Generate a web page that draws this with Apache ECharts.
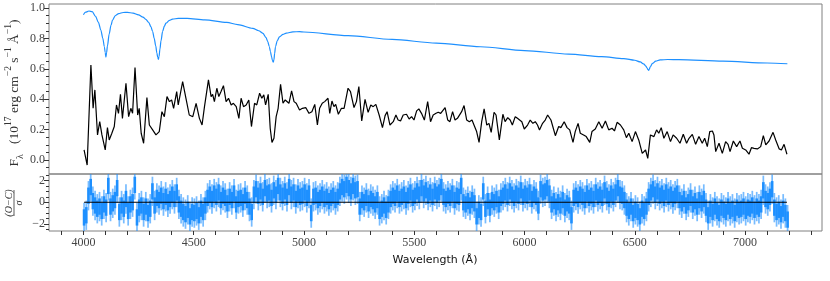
<!DOCTYPE html>
<html><head><meta charset="utf-8">
<script src="https://cdn.jsdelivr.net/npm/echarts@6/dist/echarts.min.js"></script>
<style>html,body{margin:0;padding:0;background:#fff}#c{width:830px;height:281px}</style>
</head><body><div id="c"></div>
<script>
// ---- model spectrum (blue) ----
const modelWave = [4000,4010,4025,4040,4055,4068,4079,4088,4095,4099,4102,4105,4109,4117,4125,4132,4145,4160,4180,4200,4225,4250,4270,4283,4296,4306,4314,4321,4328,4333,4337,4340,4343,4347,4352,4359,4367,4374,4390,4404,4430,4470,4550,4650,4700,4768,4795,4814,4828,4836,4843,4848,4853,4857,4861,4864,4867,4871,4879,4889,4905,4920,4950,4980,5000,5200,5400,5600,5800,6000,6200,6350,6450,6500,6525,6540,6550,6556,6560,6563,6566,6571,6580,6595,6615,6650,6700,6900,7100,7192];
const modelFlux = [0.955,0.972,0.980,0.976,0.945,0.905,0.855,0.800,0.745,0.705,0.676,0.705,0.750,0.830,0.885,0.920,0.950,0.963,0.970,0.971,0.966,0.955,0.940,0.925,0.905,0.877,0.845,0.800,0.750,0.705,0.675,0.662,0.680,0.730,0.785,0.845,0.880,0.900,0.918,0.926,0.932,0.932,0.922,0.905,0.890,0.866,0.850,0.833,0.805,0.778,0.745,0.713,0.680,0.655,0.643,0.660,0.700,0.745,0.785,0.810,0.826,0.834,0.843,0.844,0.842,0.818,0.793,0.769,0.745,0.720,0.697,0.680,0.667,0.656,0.645,0.632,0.618,0.605,0.594,0.590,0.598,0.615,0.635,0.650,0.658,0.661,0.660,0.650,0.638,0.633];

// ---- observed spectrum (black) ----
const obsWave = [4003,4017,4034,4044,4052,4064,4074,4084,4090,4099,4109,4117,4129,4140,4150,4159,4168,4177,4193,4205,4215,4223,4234,4246,4253,4262,4273,4288,4299,4314,4329,4344,4356,4367,4379,4390,4400,4409,4423,4430,4450,4465,4480,4496,4511,4526,4538,4549,4556,4567,4579,4586,4594,4605,4614,4624,4635,4647,4658,4670,4680,4693,4705,4715,4726,4738,4750,4762,4776,4786,4799,4809,4818,4826,4838,4847,4855,4864,4874,4883,4894,4905,4915,4923,4932,4944,4955,4965,4980,4993,5008,5023,5036,5049,5061,5071,5083,5094,5109,5117,5127,5136,5144,5156,5170,5182,5200,5211,5227,5238,5249,5262,5277,5291,5303,5314,5326,5341,5356,5368,5377,5390,5405,5417,5427,5438,5450,5465,5477,5488,5499,5511,5521,5533,5546,5561,5574,5586,5599,5609,5620,5629,5640,5652,5662,5674,5685,5696,5705,5715,5726,5738,5750,5762,5771,5783,5794,5806,5817,5829,5839,5849,5862,5871,5886,5902,5912,5924,5935,5945,5958,5968,5977,5988,5999,6014,6026,6038,6049,6059,6068,6082,6094,6105,6120,6140,6155,6165,6180,6193,6205,6220,6230,6243,6253,6268,6280,6296,6306,6321,6337,6352,6367,6382,6397,6408,6420,6435,6450,6462,6473,6488,6503,6518,6534,6549,6559,6571,6587,6599,6609,6620,6632,6647,6662,6674,6690,6705,6720,6735,6746,6761,6776,6791,6806,6817,6829,6840,6852,6859,6867,6882,6897,6912,6923,6932,6947,6962,6977,6988,7003,7018,7029,7041,7056,7071,7083,7094,7109,7127,7139,7155,7165,7177,7190];
const obsFlux = [0.066,-0.033,0.625,0.340,0.461,0.165,0.252,0.165,0.154,0.066,0.213,0.132,0.176,0.220,0.362,0.307,0.432,0.274,0.505,0.285,0.340,0.307,0.608,0.296,0.340,0.176,0.110,0.410,0.230,0.198,0.165,0.187,0.318,0.285,0.417,0.384,0.395,0.340,0.450,0.362,0.516,0.406,0.296,0.285,0.373,0.274,0.230,0.351,0.351,0.527,0.417,0.432,0.384,0.472,0.417,0.450,0.489,0.384,0.406,0.362,0.373,0.351,0.274,0.406,0.351,0.362,0.395,0.220,0.373,0.362,0.439,0.406,0.428,0.362,0.432,0.209,0.116,0.143,0.285,0.340,0.498,0.373,0.395,0.406,0.373,0.454,0.384,0.373,0.329,0.340,0.345,0.307,0.318,0.366,0.230,0.340,0.373,0.384,0.406,0.307,0.388,0.351,0.366,0.301,0.340,0.340,0.472,0.450,0.345,0.384,0.483,0.257,0.399,0.314,0.362,0.351,0.366,0.296,0.213,0.292,0.318,0.230,0.252,0.296,0.263,0.257,0.296,0.301,0.270,0.285,0.263,0.323,0.336,0.307,0.263,0.384,0.252,0.296,0.307,0.314,0.307,0.296,0.345,0.263,0.252,0.318,0.263,0.274,0.263,0.318,0.358,0.263,0.252,0.263,0.230,0.187,0.116,0.252,0.336,0.230,0.241,0.182,0.314,0.296,0.132,0.301,0.252,0.279,0.263,0.230,0.285,0.274,0.285,0.252,0.204,0.230,0.263,0.241,0.252,0.230,0.198,0.241,0.263,0.296,0.263,0.160,0.220,0.213,0.252,0.213,0.198,0.116,0.187,0.241,0.176,0.165,0.154,0.116,0.187,0.204,0.252,0.209,0.257,0.198,0.209,0.191,0.248,0.230,0.198,0.147,0.176,0.121,0.187,0.132,0.044,0.066,0.011,0.165,0.154,0.198,0.176,0.213,0.143,0.187,0.121,0.165,0.143,0.110,0.169,0.110,0.143,0.169,0.103,0.154,0.110,0.143,0.088,0.187,0.191,0.165,0.055,0.110,0.044,0.121,0.103,0.055,0.125,0.088,0.125,0.077,0.066,0.038,0.081,0.077,0.073,0.088,0.160,0.099,0.125,0.182,0.132,0.073,0.066,0.103,0.038];

// ---- residuals (O-C)/sigma, one value per 10 A bin ----
const residStart = 4003, residStep = 10;
const residVals = [
-1.4,-1.2,0.6,1.4,0.1,-0.3,-0.6,-0.4,-0.8,-0.2,
-0.5,1.5,-0.4,-0.1,0.2,1.3,-0.9,-0.3,-0.6,0.3,
-0.8,-0.2,0.0,1.6,-1.4,-0.5,-0.3,-0.9,-0.4,-1.0,
-0.6,1.0,-0.3,0.4,0.2,0.6,0.1,0.5,0.0,0.3,
0.7,0.3,0.9,-0.2,-0.6,-0.9,-1.1,-0.7,-1.3,-0.9,
-1.0,-0.8,-1.2,-0.6,-0.9,-0.3,0.4,0.7,0.3,0.8,
0.5,0.9,0.2,0.6,0.4,-0.1,0.5,0.2,0.8,-0.2,
0.3,0.4,0.0,0.6,0.2,-0.4,-0.9,0.7,1.2,0.6,
1.0,0.5,1.3,0.8,0.9,0.4,1.1,0.7,1.5,0.9,
0.6,1.0,0.5,1.4,0.7,0.9,0.3,0.8,0.5,0.6,
0.9,0.4,0.8,-1.0,0.5,0.6,0.2,0.4,0.7,0.3,
0.5,0.1,0.4,0.6,0.2,0.5,1.0,1.4,1.2,1.6,
1.3,1.0,1.5,1.1,1.2,-0.4,0.2,0.0,0.4,-0.1,
0.3,0.1,-0.2,0.2,-0.8,-0.6,-0.3,-0.7,-0.2,0.3,
0.6,0.4,0.8,0.3,0.5,0.7,0.2,0.6,0.9,0.4,
0.6,1.0,0.7,1.3,0.8,1.1,0.6,0.9,0.5,1.0,
0.7,0.9,1.4,0.5,0.3,0.6,0.4,0.8,0.2,0.6,
0.5,1.5,0.0,-0.2,0.1,-0.3,0.2,-0.1,-1.3,-0.7,
-0.9,1.0,-0.6,0.1,-0.5,0.2,0.0,0.3,-0.2,0.4,
0.6,0.9,0.5,1.0,0.7,0.4,0.8,0.6,1.1,0.5,
0.8,0.6,0.9,0.3,0.7,0.5,-0.3,1.2,0.9,1.0,
1.3,0.8,-0.2,0.1,-0.4,0.0,-0.3,0.2,-0.5,-0.1,
-0.3,-1.2,0.4,0.6,0.3,0.7,0.5,0.2,0.8,0.4,
0.6,0.3,0.9,0.5,0.7,0.4,1.1,0.6,0.3,0.8,
0.5,0.9,1.3,0.7,0.6,0.2,-0.5,-0.8,-0.4,-1.0,
-0.7,-0.9,-1.3,-0.6,-0.8,-0.4,0.5,0.9,1.2,0.7,
1.0,0.6,0.8,0.4,0.9,0.5,0.7,0.3,0.6,0.8,
0.2,-0.1,0.3,-0.3,0.0,0.4,-0.2,0.1,-0.4,0.2,
-0.1,0.3,-0.5,-1.2,-0.6,-0.9,-0.4,-0.8,-1.0,-0.5,
-0.7,-0.9,-0.4,-0.8,-0.6,-1.0,-0.5,-0.7,-0.6,-0.4,
-0.8,-0.5,-0.6,-0.3,-0.7,-0.4,-0.6,-0.2,1.1,0.3,
0.1,0.5,1.2,-0.5,-0.9,-0.7,-1.1,-0.6,-1.0,-1.6];
const residErr = 1.0;
const zeroLineWave = [4003, 7190];

// ---- ticks ----
const xMajorTicks = [4000,4500,5000,5500,6000,6500,7000];
const xMinorTicks = [3900,4100,4200,4300,4400,4600,4700,4800,4900,5100,5200,5300,5400,5600,5700,5800,5900,6100,6200,6300,6400,6600,6700,6800,6900,7100,7200,7300];
const yTopTicks = [0,0.2,0.4,0.6,0.8,1.0];
const yTopMinor = [-0.05,0.05,0.1,0.15,0.25,0.3,0.35,0.45,0.5,0.55,0.65,0.7,0.75,0.85,0.9,0.95];
const yResTicks = [-2,0,2];
const yResMinor = [-2.5,-1.5,-1,-0.5,0.5,1,1.5,2.5];

const X_MIN = 3844, X_MAX = 7349;
const BLUE = '#1E90FF';
const SERIF = 'Liberation Serif, DejaVu Serif, serif';
const tickColor = '#333', labelColor = '#444';

const chart = echarts.init(document.getElementById('c'), null, {renderer:'canvas'});
const zip = (a,b) => a.map((v,i)=>[v,b[i]]);
const residData = residVals.map((r,i)=>[residStart + i*residStep, r]);

function xAxisDef(grid, opts){
  return Object.assign({gridIndex:grid, type:'value', min:X_MIN, max:X_MAX,
    axisLine:{show:false, onZero:false}, splitLine:{show:false}, axisTick:{show:false}, axisLabel:{show:false}}, opts||{});
}
function yAxisDef(grid, min, max, opts){
  return Object.assign({gridIndex:grid, type:'value', min:min, max:max, position:'left',
    axisLine:{show:false, onZero:false}, splitLine:{show:false}, axisTick:{show:false}, axisLabel:{show:false}}, opts||{});
}
const fmtMinus = v => (v<0?'\u2212':'') + Math.abs(v);

chart.setOption({
  animation:false,
  backgroundColor:'#fff',
  grid:[
    {left:49, top:4, width:773, height:170, show:true, borderColor:'#808080', borderWidth:1, backgroundColor:'transparent'},
    {left:49, top:174, width:773, height:57, show:true, borderColor:'#808080', borderWidth:1, backgroundColor:'transparent'}
  ],
  xAxis:[
    xAxisDef(0),
    xAxisDef(1, {position:'bottom',
      axisTick:{show:true, customValues:xMajorTicks, length:4, lineStyle:{color:tickColor, width:1}},
      axisLabel:{show:true, customValues:xMajorTicks, margin:6, color:labelColor, fontFamily:SERIF, fontSize:12,
        formatter:v=>String(v)}}),
    xAxisDef(1, {position:'bottom',
      axisTick:{show:true, customValues:xMinorTicks, length:4, lineStyle:{color:tickColor, width:1}}})
  ],
  yAxis:[
    yAxisDef(0, -0.092, 1.026, {
      axisTick:{show:true, customValues:yTopTicks, length:5, lineStyle:{color:tickColor, width:1}},
      axisLabel:{show:true, customValues:yTopTicks, margin:4, color:labelColor, fontFamily:SERIF, fontSize:12,
        formatter:v=>Number(v).toFixed(1)}}),
    yAxisDef(0, -0.092, 1.026, {
      axisTick:{show:true, customValues:yTopMinor, length:3, lineStyle:{color:tickColor, width:1}}}),
    yAxisDef(1, -2.65, 2.6, {
      axisTick:{show:true, customValues:yResTicks, length:5, lineStyle:{color:tickColor, width:1}},
      axisLabel:{show:true, customValues:yResTicks, margin:4, color:labelColor, fontFamily:SERIF, fontSize:12,
        formatter:fmtMinus}}),
    yAxisDef(1, -2.65, 2.6, {
      axisTick:{show:true, customValues:yResMinor, length:3, lineStyle:{color:tickColor, width:1}}})
  ],
  series:[
    {type:'line', xAxisIndex:0, yAxisIndex:0, data:zip(modelWave, modelFlux), showSymbol:false,
     smooth:0.3, smoothMonotone:'x', lineStyle:{color:BLUE, width:1.2}, z:3},
    {type:'line', xAxisIndex:0, yAxisIndex:0, data:zip(obsWave, obsFlux), showSymbol:false,
     lineStyle:{color:'#000', width:1.2}, z:4},
    {type:'custom', xAxisIndex:1, yAxisIndex:2, data:residData, z:3,
     renderItem:function(params, api){
       const w = api.value(0), r = api.value(1);
       const cs = params.coordSys;
       const clip = {x:cs.x, y:cs.y, width:cs.width, height:cs.height};
       const mk = (half, frac, fill) => {
         const a = api.coord([w - residStep/2*frac, r + half]);
         const b = api.coord([w + residStep/2*frac, r - half]);
         const s = echarts.graphic.clipRectByRect({x:a[0]-0.2, y:a[1], width:b[0]-a[0]+0.4, height:b[1]-a[1]}, clip);
         return s ? {type:'rect', shape:s, style:{fill:fill}} : null;
       };
       const kids = [mk(residErr*1.35, 0.6, 'rgba(30,144,255,0.6)'), mk(residErr*0.75, 1, BLUE)].filter(Boolean);
       return {type:'group', children:kids};
     }},
    {type:'line', xAxisIndex:1, yAxisIndex:2, data:zeroLineWave.map(w=>[w,0]), showSymbol:false,
     lineStyle:{color:'#000', width:1.2}, z:5}
  ],
  graphic:[
    {type:'text', x:14, y:93, rotation:Math.PI/2,
     style:{text:'{a|F}{s|λ}{a|   (10}{p|17}{a| erg cm}{p|−2}{a| s}{p|−1}{a| Å}{p|−1}{a|)}',
       align:'center', verticalAlign:'middle', fill:'#333',
       rich:{
         a:{fontFamily:SERIF, fontSize:13.5, lineHeight:22, verticalAlign:'middle', fill:'#333'},
         s:{fontFamily:SERIF, fontSize:10, lineHeight:12, verticalAlign:'bottom', fill:'#333'},
         p:{fontFamily:SERIF, fontSize:9.5, lineHeight:10, verticalAlign:'top', fill:'#333'}
       }}},
    {type:'group', x:14, y:203, rotation:Math.PI/2, children:[
      {type:'text', x:0, y:-5, style:{text:'(O−C)', align:'center', verticalAlign:'middle',
        font:'italic 10px Liberation Serif, serif', fill:'#333'}},
      {type:'line', shape:{x1:-13, y1:0, x2:13, y2:0}, style:{stroke:'#333', lineWidth:0.8}},
      {type:'text', x:0, y:5, style:{text:'σ', align:'center', verticalAlign:'middle',
        font:'italic 10px Liberation Serif, serif', fill:'#333'}}
    ]},
    {type:'text', x:435, y:260, style:{text:'Wavelength (Å)', align:'center', verticalAlign:'middle',
      font:'11px DejaVu Sans, sans-serif', fill:'#111'}}
  ]
});
</script></body></html>
